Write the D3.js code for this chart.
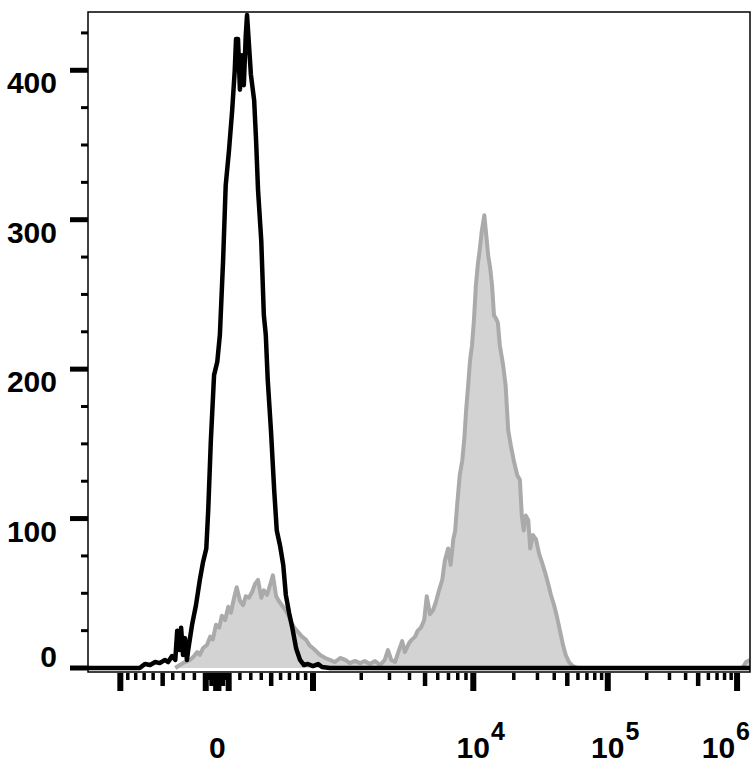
<!DOCTYPE html>
<html><head><meta charset="utf-8">
<script src="https://cdn.jsdelivr.net/npm/d3@7"></script>
<style>body{margin:0;background:#fff}</style>
</head><body>
<svg id="chart" width="756" height="773"></svg>
<script>
// ---- data (display channel 0..1024, event counts) ----
const blackChannel = [0,80,88,96,104,111,119,124,130,135,138,141,144,147,150,153,155,161,167,173,178,183,186,190,195,200,204,209,213,218,223,227,229,232,235,238,241,244,246,249,252,257,260,263,268,272,275,278,283,288,292,297,302,306,311,316,322,328,334,340,348,356,362,374,1024];
const blackCount   = [0,0,2.7,2,4,3.3,5.4,4,8,5.4,25,12,27,8.7,20,5.4,12,29,42,59,71,80,106,152,196,205,223,273,323,346,373,400,421,421,387,410,390,423,437,417,397,380,353,320,286,236,223,193,159,119,92,82,69,49,37,27,13,5.4,2,2.7,1.3,2.7,0.7,0,0];
const grayChannel = [135,142,150,158,164,169,173,178,184,189,193,198,203,207,212,217,221,226,230,235,240,244,249,254,258,263,268,272,277,282,286,291,295,300,305,309,314,319,325,331,337,343,351,359,367,374,382,390,398,405,413,421,428,436,444,452,459,464,469,475,481,486,490,497,501,506,510,515,520,524,529,534,538,543,548,552,557,561,565,568,571,575,579,582,585,588,591,594,597,600,603,606,609,613,616,619,622,625,628,631,634,637,642,646,650,654,659,664,668,671,674,677,681,684,688,693,698,702,707,712,716,721,725,730,735,739,744,750,758,1012,1018,1024];
const grayCount   = [0,2,4,5.4,8,10.7,8.7,13.4,15.4,21,19,29,27,35,32,41,37,47,54,45,42,48,47,51,56,59,47,52,49,56,62,48,45,42,39,36,31,27,24,21,19,15,12,8.7,6.7,5.4,4,6.7,5.4,3.3,4.7,3.3,4.7,2.7,4.7,2,5.4,12,5.4,4,12,18,10.7,17,19,21,25,27,32,48,36,39,44,52,59,72,80,69,86,92,109,129,139,153,173,189,206,216,233,256,270,280,292,303,290,276,268,256,236,234,231,216,203,189,159,149,138,129,126,102,92,102,99,80,89,86,76,71,64,56,49,42,35,25,15,8.7,4,1.3,0,0,4,5.4];

// axis tick values
const yMajorTicks = [0,100,200,300,400];
const yMinorTicks = [25,50,75,125,150,175,225,250,275,325,350,375,425];
const xMajorTicks = [-1000,-100,-10,0,10,100,1000,10000,100000,1000000];
const xMediumTicks = [-500,-50,-5,5,50,500,5000,50000,500000];
const xMinorMantissa = [2,3,4,6,7,8,9];
const xLabelValues = [0,10000,100000,1000000];
const xLabelBase = ["0","10","10","10"];
const xLabelExp = ["","4","5","6"];

// ---- scales ----
const W = 756, H = 773;
const mLeft = 88, mRight = 750, mTop = 12, mBottom = 668;
const x = d3.scaleLinear().domain([0,1024]).range([mLeft,mRight]);
const y = d3.scaleLinear().domain([0,439]).range([mBottom,mTop]);
// biexponential-style axis transform: value -> decade units -> channel
const lin = 800, linNorm = Math.asinh(1000/lin);
function T(v){
  const a = Math.abs(v), s = Math.sign(v);
  if (a <= 1000) return s*Math.asinh(a/lin)/linNorm;
  return s*(1+Math.log10(a/1000));
}
const decadeToChannel = d3.scaleLinear().domain([-1,0,1,2,3,4]).range([50,200,348,596,804,1004]);
const xv = v => x(decadeToChannel(T(v)));

const svg = d3.select("#chart");
const font = "'Liberation Sans', Arial, sans-serif";

// ---- histograms ----
const grayPts = grayChannel.map((c,i)=>[c,grayCount[i]]);
svg.append("path").datum(grayPts)
  .attr("d", d3.area().x(d=>x(d[0])).y0(y(0)).y1(d=>y(d[1])))
  .attr("fill","#d3d3d3");
svg.append("path").datum(grayPts)
  .attr("d", d3.line().x(d=>x(d[0])).y(d=>y(d[1])))
  .attr("fill","none").attr("stroke","#aaaaaa").attr("stroke-width",4).attr("stroke-linejoin","round");

const blackPts = blackChannel.map((c,i)=>[c,blackCount[i]]);
svg.append("path").datum(blackPts)
  .attr("d", d3.line().x(d=>x(d[0])).y(d=>y(d[1])))
  .attr("fill","none").attr("stroke","#000").attr("stroke-width",4.5).attr("stroke-linejoin","round");

// ---- frame ----
svg.append("rect").attr("x",mLeft).attr("y",mTop).attr("width",mRight-mLeft).attr("height",mBottom+4-mTop)
  .attr("fill","none").attr("stroke","#000").attr("stroke-width",1.5);

// ---- y axis ----
const gy = svg.append("g");
gy.selectAll("line.maj").data(yMajorTicks).join("line").attr("class","maj")
  .attr("x1",70).attr("x2",mLeft).attr("y1",d=>y(d)).attr("y2",d=>y(d))
  .attr("stroke","#000").attr("stroke-width",5);
gy.selectAll("line.min").data(yMinorTicks).join("line").attr("class","min")
  .attr("x1",81).attr("x2",mLeft).attr("y1",d=>y(d)).attr("y2",d=>y(d))
  .attr("stroke","#000").attr("stroke-width",3);
gy.selectAll("text").data(yMajorTicks).join("text")
  .attr("x",57).attr("y",d=> d===0 ? y(d)-1 : y(d)+23)
  .attr("text-anchor","end").attr("font-family",font).attr("font-size",30).attr("font-weight","bold")
  .text(d=>d);

// ---- x axis ----
const axisY = mBottom+5;
const xMinorTicks = [];
[0,1,2].forEach(n=>xMinorMantissa.forEach(m=>{xMinorTicks.push(m*Math.pow(10,n)); xMinorTicks.push(-m*Math.pow(10,n));}));
[3,4,5].forEach(n=>xMinorMantissa.forEach(m=>xMinorTicks.push(m*Math.pow(10,n))));
const gx = svg.append("g");
gx.selectAll("line.min").data(xMinorTicks).join("line").attr("class","min")
  .attr("x1",d=>xv(d)).attr("x2",d=>xv(d)).attr("y1",axisY).attr("y2",axisY+7)
  .attr("stroke","#000").attr("stroke-width",3.5);
gx.selectAll("line.med").data(xMediumTicks).join("line").attr("class","med")
  .attr("x1",d=>xv(d)).attr("x2",d=>xv(d)).attr("y1",axisY).attr("y2",axisY+13)
  .attr("stroke","#000").attr("stroke-width",4.5);
gx.selectAll("line.maj").data(xMajorTicks).join("line").attr("class","maj")
  .attr("x1",d=>xv(d)).attr("x2",d=>xv(d)).attr("y1",axisY).attr("y2",axisY+18)
  .attr("stroke","#000").attr("stroke-width",6);

xLabelValues.forEach((v,i)=>{
  const t = gx.append("text").attr("y",758).attr("font-family",font).attr("font-weight","bold");
  t.append("tspan").attr("font-size",30).text(xLabelBase[i]);
  if (xLabelExp[i]) t.append("tspan").attr("font-size",25).attr("dy",-18).attr("dx",1).text(xLabelExp[i]);
  const bb = t.node().getBBox();
  const baseW = xLabelExp[i] ? 33.4 : bb.width;
  let x0 = xv(v) - baseW/2;
  if (x0 + bb.width > W - 6) x0 = W - 6 - bb.width;
  t.attr("x", x0);
});
</script>
</body></html>
